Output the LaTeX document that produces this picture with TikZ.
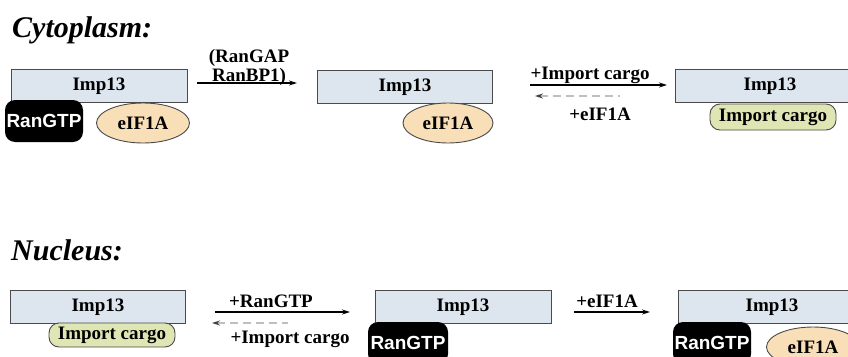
\documentclass[tikz,border=0pt]{standalone}
\usepackage{fontspec}
\setmainfont{Liberation Serif}
\setsansfont{Liberation Sans}
\usetikzlibrary{arrows.meta,shapes.geometric}
\definecolor{impfill}{HTML}{DDE5EE}
\definecolor{eiffill}{HTML}{F8DFB8}
\definecolor{cargofill}{HTML}{DFE6B4}
\definecolor{edge}{HTML}{4A4A4A}
\begin{document}
\begin{tikzpicture}[x=1pt,y=-1pt,
  txt/.style={font=\fontsize{19}{19}\selectfont\rmfamily\bfseries, inner sep=0pt},
  title/.style={font=\fontsize{30}{30}\selectfont\rmfamily\bfseries\itshape, inner sep=0pt, anchor=base west},
  impbox/.style={draw=edge, line width=0.9pt, fill=impfill, minimum height=33pt, inner sep=0pt, font=\fontsize{19}{19}\selectfont\rmfamily\bfseries},
  eif/.style={ellipse, draw=edge, line width=0.9pt, fill=eiffill, minimum width=93pt, minimum height=40pt, inner sep=0pt, font=\fontsize{19}{19}\selectfont\rmfamily\bfseries},
  cargo/.style={draw=edge, line width=0.9pt, fill=cargofill, rounded corners=10pt, minimum width=126pt, minimum height=26pt, inner sep=0pt, font=\fontsize{19}{19}\selectfont\rmfamily\bfseries},
  ran/.style={fill=black, rounded corners=10pt, minimum width=78pt, minimum height=42pt, inner sep=0pt, text=white, font=\fontsize{19}{19}\selectfont\sffamily\bfseries},
  fwd/.style={line width=1.1pt, -{Stealth[length=8pt,width=5pt]}},
  back/.style={line width=1.1pt, draw=black!25, dash pattern=on 8pt off 5pt, {Stealth[length=8pt,width=5pt,color=black!75]}-},
]
\useasboundingbox (0,0) rectangle (848,356);
\clip (0,0) rectangle (848,356);

% ---------- Cytoplasm ----------
\node[title] (t1) at (12,37) {Cytoplasm:};

\node[impbox, minimum width=176pt] (c1) at (99,86) {Imp13};
\node[ran] (c1r) at (44,121) {RanGTP};
\node[eif] (c1e) at (143,123) {eIF1A};

\coordinate (a1s) at (197,83);
\coordinate (a1e) at (297,83);
\draw[fwd] (a1s) -- (a1e);
\node[txt, align=center, anchor=south] (l1) at (249,86) {(RanGAP\\RanBP1)};

\node[impbox, minimum width=175pt] (c2) at (405,87) {Imp13};
\node[eif, minimum width=90pt] (c2e) at (448,123) {eIF1A};

\coordinate (a2s) at (530,85);
\coordinate (a2e) at (667,85);
\draw[fwd] (a2s) -- (a2e);
\node[txt, anchor=base] (l2) at (590,79) {+Import cargo};
\coordinate (b2s) at (620,96);
\coordinate (b2e) at (535,96);
\draw[back] (b2e) -- (b2s);
\node[txt, anchor=base] (l3) at (600,120) {+eIF1A};

\node[impbox, minimum width=190pt] (c3) at (770,86) {Imp13};
\node[cargo] (c3c) at (773,117) {Import cargo};

% ---------- Nucleus ----------
\node[title] (t2) at (11,260) {Nucleus:};

\node[impbox, minimum width=175pt] (n1) at (98,307) {Imp13};
\node[cargo, minimum height=24pt] (n1c) at (112,335) {Import cargo};

\coordinate (a3s) at (215,312);
\coordinate (a3e) at (350,312);
\draw[fwd] (a3s) -- (a3e);
\node[txt, anchor=base] (l4) at (271,307) {+RanGTP};
\coordinate (b3s) at (288,323);
\coordinate (b3e) at (212,323);
\draw[back] (b3e) -- (b3s);
\node[txt, anchor=base] (l5) at (290,343) {+Import cargo};

\node[impbox, minimum width=176pt] (n2) at (463,307) {Imp13};
\node[ran, minimum width=80pt] (n2r) at (408,343) {RanGTP};

\coordinate (a4s) at (574,312);
\coordinate (a4e) at (650,312);
\draw[fwd] (a4s) -- (a4e);
\node[txt, anchor=base] (l6) at (607,307) {+eIF1A};

\node[impbox, minimum width=188pt] (n3) at (772,307) {Imp13};
\node[ran] (n3r) at (712,343) {RanGTP};
\node[eif] (n3e) at (813,347) {eIF1A};
\end{tikzpicture}
\end{document}
